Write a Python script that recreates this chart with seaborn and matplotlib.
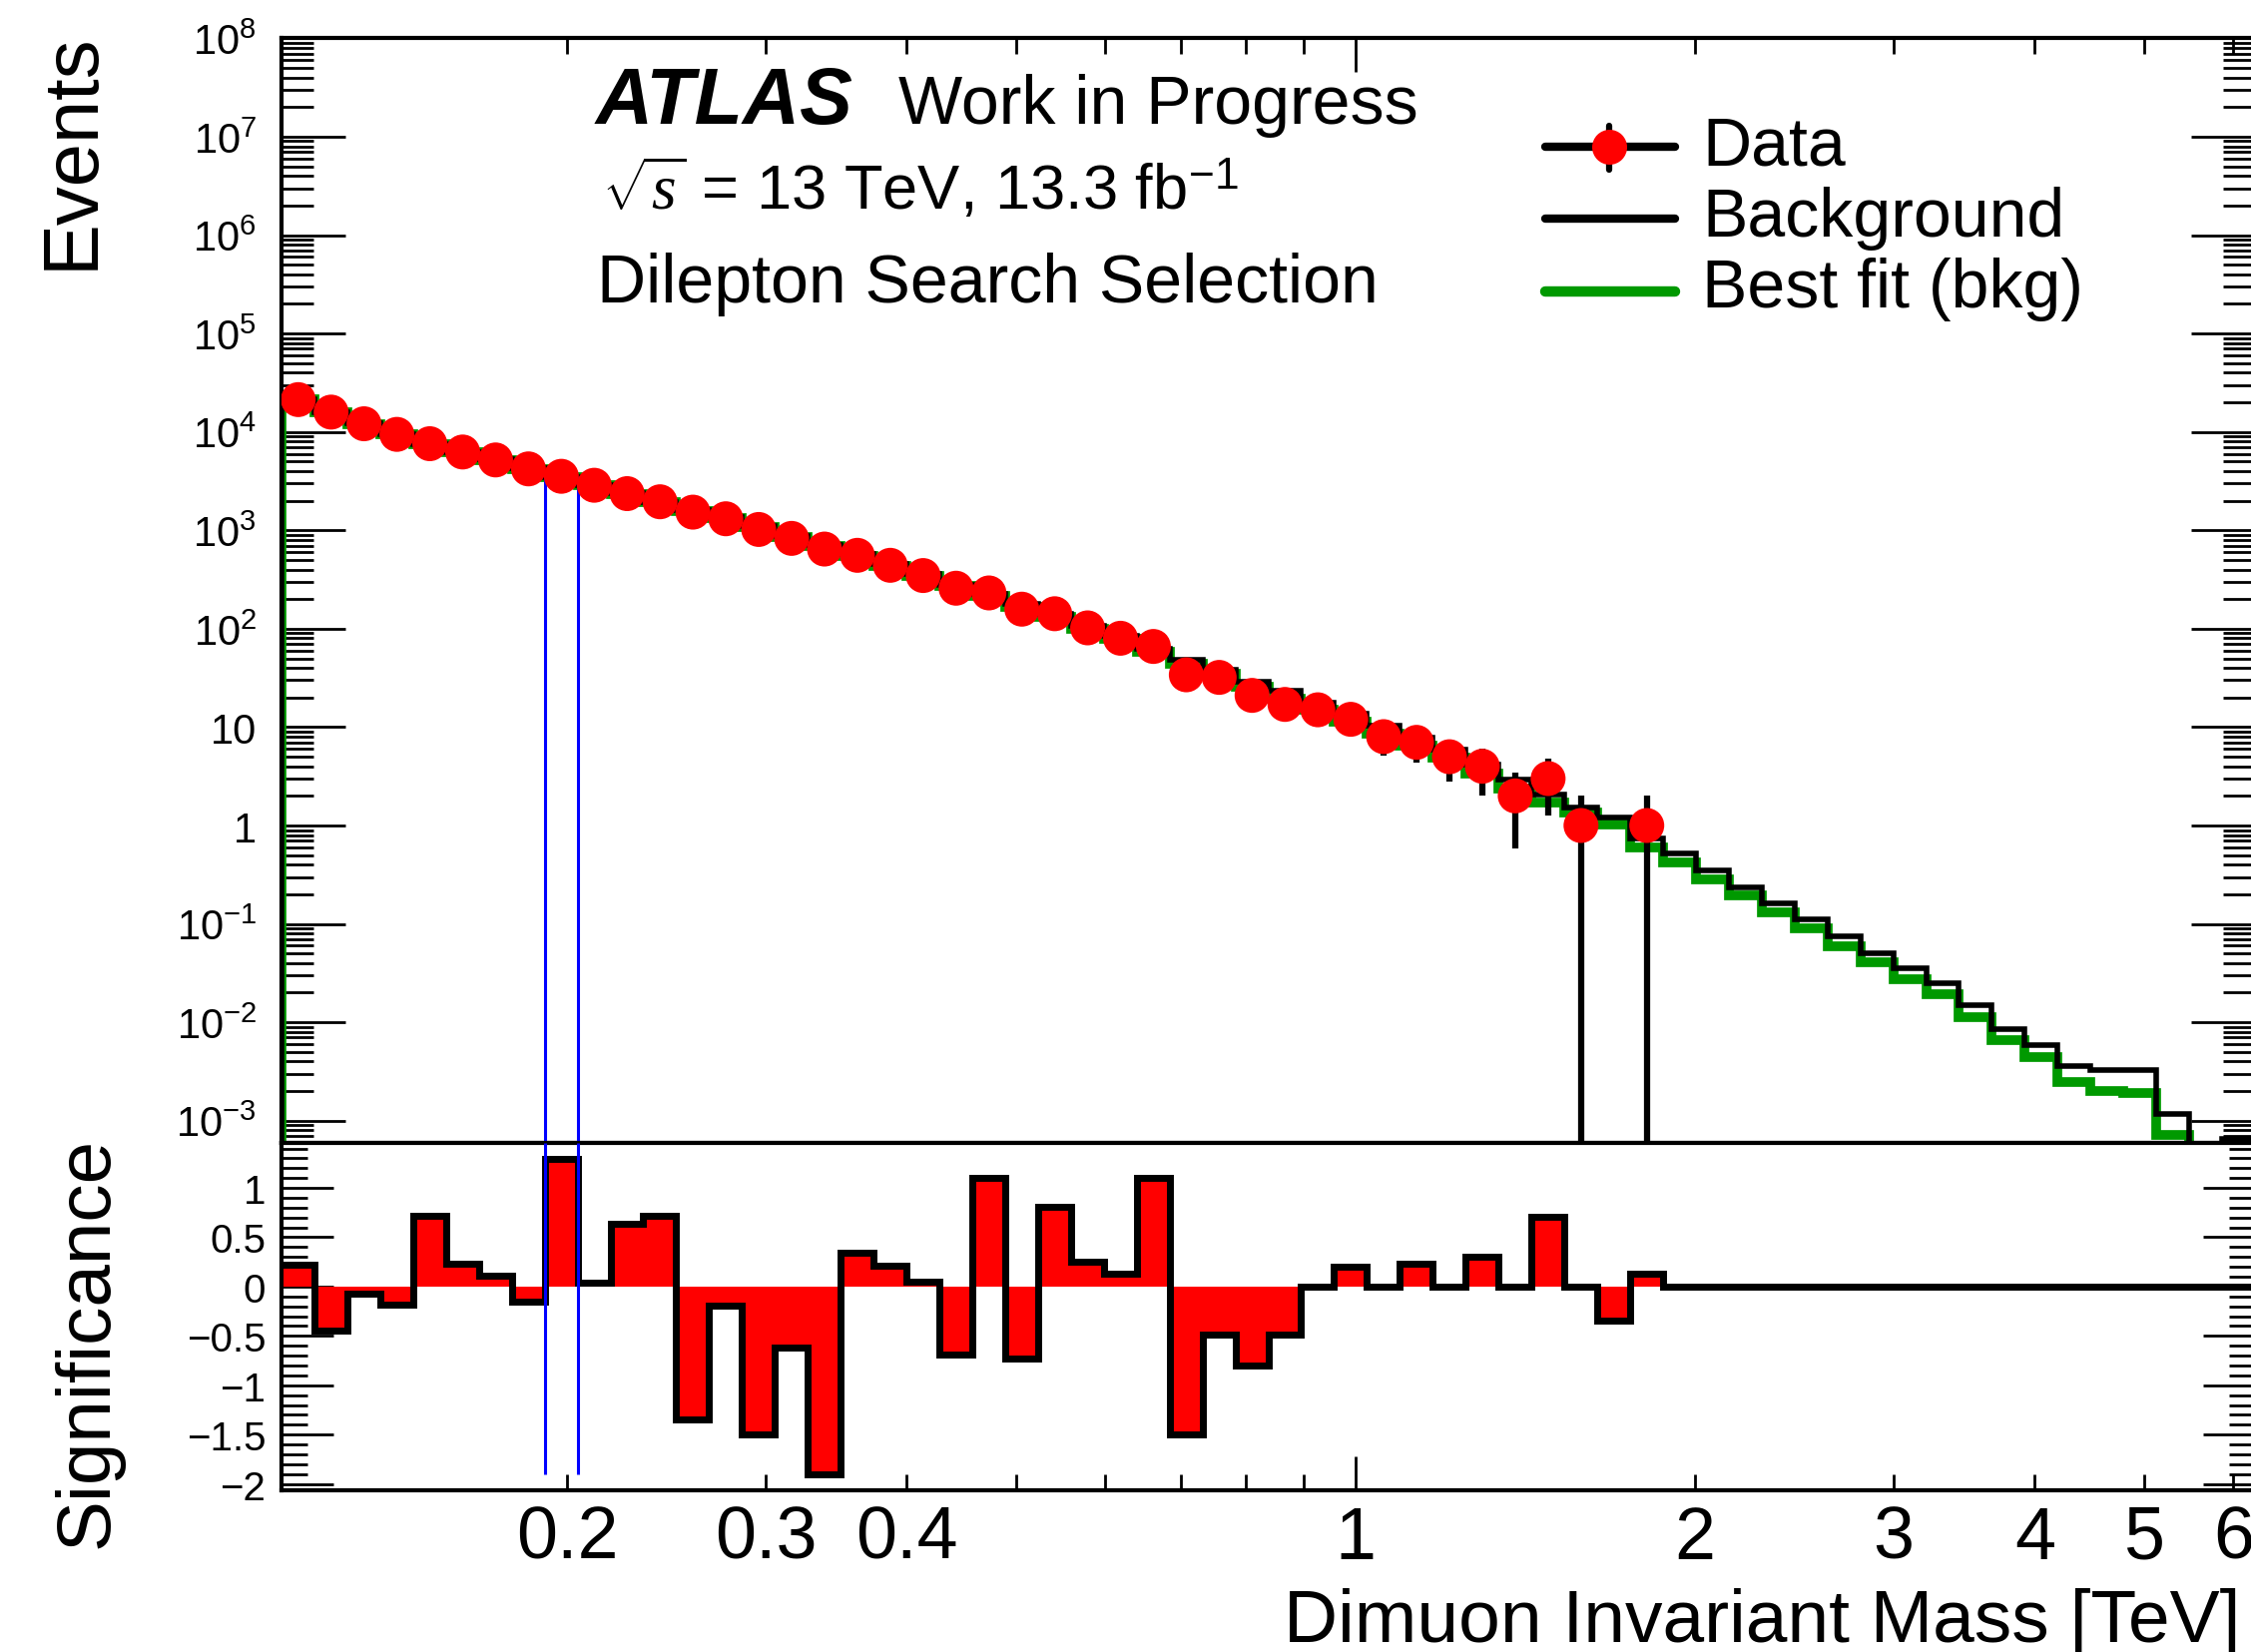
import numpy as np
import matplotlib
matplotlib.use("Agg")
import matplotlib.pyplot as plt
from matplotlib import ticker
from matplotlib.lines import Line2D
import seaborn as sns

sns.set_theme(style="ticks")
plt.rcParams.update({
    "font.family": ["Liberation Sans", "DejaVu Sans"],
    "mathtext.fontset": "custom",
    "mathtext.rm": "Liberation Sans",
    "mathtext.it": "Liberation Serif:italic",
    "mathtext.bf": "Liberation Sans:bold",
    "axes.unicode_minus": True,
    "text.color": "black",
    "axes.labelcolor": "black",
    "axes.edgecolor": "black",
    "xtick.color": "black",
    "ytick.color": "black",
})

# ---------------------------------------------------------------------------
# Dimuon invariant mass binning [TeV]: logarithmic bins
mass_min = 0.1117
mass_max = 6.27
n_bins = 60

# Observed events per bin
data_counts = np.array([
    21300, 15900, 12100, 9440, 7590, 6250, 5190, 4210, 3540, 2870,
    2360, 1950, 1530, 1310, 1020, 828, 645, 557, 441, 347,
    258, 231, 158, 142, 102, 80, 66, 34, 32, 21,
    17, 15, 12, 8, 7, 5, 4, 2, 3, 1,
    0, 1, 0, 0, 0, 0, 0, 0, 0, 0,
    0, 0, 0, 0, 0, 0, 0, 0, 0, 0], dtype=float)

# Background expectation per bin
background = np.array([
    21300, 15990, 12150, 9500, 7570, 6280, 5230, 4270, 3510, 2910,
    2370, 1955, 1620, 1350, 1100, 872, 717, 569, 454, 361,
    281, 226, 177, 141, 106.5, 85, 62.5, 48.4, 38.4, 28.8,
    23.2, 17.8, 13.6, 10.3, 7.8, 5.9, 4.2, 2.9, 2.05, 1.52,
    1.21, 0.743, 0.52, 0.347, 0.237, 0.162, 0.112, 0.0745, 0.0508, 0.0356,
    0.0249, 0.0149, 0.0086, 0.0059, 0.0036, 0.0033, 0.0033, 0.00118, 0.0, 0.00066])

# Background-only best fit per bin
best_fit = np.array([
    21268, 15957, 12108, 9457, 7527, 6232, 5182, 4220, 3463, 2868,
    2329, 1918, 1583, 1317, 1068, 846, 693, 549, 437, 346,
    269, 215, 167.5, 132.5, 99.5, 78.8, 57.6, 44.5, 34.9, 25.5,
    19.3, 15.0, 11.4, 8.6, 6.5, 4.9, 3.4, 2.4, 1.71, 1.37,
    1.02, 0.60, 0.425, 0.286, 0.194, 0.131, 0.0897, 0.0594, 0.0403, 0.0277,
    0.0193, 0.0112, 0.0066, 0.0044, 0.00245, 0.0020, 0.0019, 0.00071, 0.0, 0.0])

# Bin-by-bin significance of data with respect to the fit
significance = np.array([
    0.22, -0.45, -0.07, -0.18, 0.72, 0.23, 0.11, -0.15, 1.29, 0.04,
    0.64, 0.72, -1.35, -0.19, -1.50, -0.62, -1.90, 0.34, 0.21, 0.05,
    -0.69, 1.10, -0.73, 0.81, 0.25, 0.13, 1.10, -1.50, -0.49, -0.80,
    -0.49, 0.0, 0.20, 0.0, 0.23, 0.0, 0.30, 0.0, 0.71, 0.0,
    -0.35, 0.13, 0.0, 0.0, 0.0, 0.0, 0.0, 0.0, 0.0, 0.0,
    0.0, 0.0, 0.0, 0.0, 0.0, 0.0, 0.0, 0.0, 0.0, 0.0])

# Most significant window (bin index)
bump_bin = 8

# Axis ticks
x_major_ticks = [1.0]
x_minor_ticks = [0.2, 0.3, 0.4, 0.5, 0.6, 0.7, 0.8, 0.9, 2, 3, 4, 5, 6]
x_tick_labels = [0.2, 0.3, 0.4, 1, 2, 3, 4, 5, 6]
events_range = (6.0e-4, 1e8)
sig_range = (-2.065, 1.46)

edges = np.geomspace(mass_min, mass_max, n_bins + 1)
centers = 0.5 * (edges[:-1] + edges[1:])

# ---------------------------------------------------------------------------
W, H, DPI = 2255, 1656, 100
fig = plt.figure(figsize=(W / DPI, H / DPI), dpi=DPI)
fig.patch.set_facecolor("white")


def fx(px):
    return px / W


def fy(py):
    return 1.0 - py / H


left, right = 282, 2259
top, split, bottom = 39.4, 1145.6, 1494
ax_top = fig.add_axes([fx(left), fy(split), (right - left) / W, (split - top) / H])
ax_bot = fig.add_axes([fx(left), fy(bottom), (right - left) / W, (bottom - split) / H],
                      sharex=ax_top)

for ax in (ax_top, ax_bot):
    ax.set_facecolor("white")
    ax.grid(False)
    ax.set_xscale("log")
    for sp in ax.spines.values():
        sp.set_visible(True)
        sp.set_linewidth(3.0)
        sp.set_color("black")

# ---- upper panel: event counts ------------------------------------------
ax_top.set_yscale("log")
ax_top.stairs(best_fit, edges, baseline=0, color="#009900", lw=7, zorder=2)
ax_top.stairs(background, edges, baseline=0, color="black", lw=4, zorder=3)

has_data = data_counts > 0
err = np.sqrt(data_counts)
ax_top.vlines(centers[has_data], data_counts[has_data] - err[has_data],
              data_counts[has_data] + err[has_data], color="black", lw=4.5, zorder=4)
sns.scatterplot(x=centers[has_data], y=data_counts[has_data], ax=ax_top, color="red",
                s=635, edgecolor="none", linewidth=0, zorder=6, legend=False)

window = [edges[bump_bin], edges[bump_bin + 1]]
ax_top.vlines(window, events_range[0], data_counts[bump_bin], color="blue", lw=2.2, zorder=5)

ax_top.set_xlim(edges[0], edges[-1])
ax_top.set_ylim(*events_range)
ax_top.set_xlabel("")
ax_top.set_ylabel("")

# ---- lower panel: significance -------------------------------------------
ax_bot.stairs(significance, edges, baseline=0, fill=True, color="red", lw=0, zorder=1)
ax_bot.stairs(significance, edges, baseline=None, color="black", lw=5, zorder=2)
ax_bot.vlines(window, significance.min(), sig_range[1], color="blue", lw=2.2, zorder=5)
ax_bot.set_ylim(*sig_range)
ax_bot.set_xlim(edges[0], edges[-1])

# ---- ticks -----------------------------------------------------------------
def x_label(v, pos):
    for t in x_tick_labels:
        if abs(v - t) < 1e-6 * t:
            return "%g" % t
    return ""


ax_bot.xaxis.set_major_locator(ticker.FixedLocator(x_major_ticks))
ax_bot.xaxis.set_minor_locator(ticker.FixedLocator(x_minor_ticks))
ax_bot.xaxis.set_major_formatter(ticker.FuncFormatter(x_label))
ax_bot.xaxis.set_minor_formatter(ticker.FuncFormatter(x_label))


def events_label(v, pos):
    e = int(round(np.log10(v)))
    if e == 0:
        return "1"
    if e == 1:
        return "10"
    return r"$\mathregular{10^{%d}}$" % e


ax_top.yaxis.set_major_locator(ticker.LogLocator(base=10, numticks=40))
ax_top.yaxis.set_minor_locator(ticker.LogLocator(base=10, subs=np.arange(2, 10) * 1.0, numticks=40))
ax_top.yaxis.set_major_formatter(ticker.FuncFormatter(events_label))
ax_top.yaxis.set_minor_formatter(ticker.NullFormatter())


def sig_label(v, pos):
    s = "%g" % round(v, 2)
    if s == "-0":
        s = "0"
    return s.replace("-", "\u2212")


ax_bot.yaxis.set_major_locator(ticker.MultipleLocator(0.5))
ax_bot.yaxis.set_minor_locator(ticker.MultipleLocator(0.1))
ax_bot.yaxis.set_major_formatter(ticker.FuncFormatter(sig_label))

ax_top.tick_params(axis="x", which="both", direction="in", bottom=False, top=True,
                   labelbottom=False, labeltop=False, width=2, color="black")
ax_top.tick_params(axis="x", which="major", length=24.5)
ax_top.tick_params(axis="x", which="minor", length=11.5)
ax_top.tick_params(axis="y", which="both", direction="in", left=True, right=True,
                   width=2, color="black", labelcolor="black")
ax_top.tick_params(axis="y", which="major", length=46, labelsize=30, pad=18)
ax_top.tick_params(axis="y", which="minor", length=23)

ax_bot.tick_params(axis="x", which="both", direction="in", bottom=True, top=False,
                   labelbottom=True, width=2, labelsize=53, pad=10, color="black",
                   labelcolor="black")
ax_bot.tick_params(axis="x", which="major", length=24.5)
ax_bot.tick_params(axis="x", which="minor", length=11.5)
ax_bot.tick_params(axis="y", which="both", direction="in", left=True, right=True,
                   width=2, color="black", labelcolor="black")
ax_bot.tick_params(axis="y", which="major", length=37.4, labelsize=29, pad=11.5)
ax_bot.tick_params(axis="y", which="minor", length=18.7)
ax_bot.set_xlabel("")
ax_bot.set_ylabel("")

# ---- axis titles -----------------------------------------------------------
fig.text(fx(93), fy(32), "Events", rotation=90, rotation_mode="anchor",
         ha="right", va="baseline", fontsize=56)
fig.text(fx(108), fy(1139), "Significance", rotation=90, rotation_mode="anchor",
         ha="right", va="baseline", fontsize=55)
fig.text(fx(2245), fy(1645), "Dimuon Invariant Mass [TeV]", ha="right",
         va="baseline", fontsize=54)

# ---- labels ----------------------------------------------------------------
fig.text(fx(597), fy(124), "ATLAS", fontsize=57, fontweight="bold",
         fontstyle="italic", va="baseline", ha="left")
fig.text(fx(900), fy(124), "Work in Progress", fontsize=49, va="baseline", ha="left")
fig.text(fx(603), fy(210), r"$\sqrt{s}$ = 13 TeV, 13.3 fb$^{\mathregular{-1}}$",
         fontsize=45.5, va="baseline", ha="left")
fig.text(fx(598), fy(303), "Dilepton Search Selection", fontsize=49,
         va="baseline", ha="left")

# ---- legend ----------------------------------------------------------------
lx0, lx1, lxm = 1548, 1678, 1612
fig.add_artist(Line2D([fx(lx0), fx(lx1)], [fy(148), fy(148)], transform=fig.transFigure,
                      color="black", lw=6))
fig.add_artist(Line2D([fx(lxm), fx(lxm)], [fy(126.7), fy(170.7)], transform=fig.transFigure,
                      color="black", lw=4.5))
fig.add_artist(Line2D([fx(lxm)], [fy(148)], transform=fig.transFigure, ls="none",
                      marker="o", ms=25.2, mfc="red", mec="none"))
fig.add_artist(Line2D([fx(lx0), fx(lx1)], [fy(220), fy(220)], transform=fig.transFigure,
                      color="black", lw=6))
fig.add_artist(Line2D([fx(lx0), fx(lx1)], [fy(293), fy(293)], transform=fig.transFigure,
                      color="#009900", lw=7.5))
fig.text(fx(1705), fy(165), "Data", fontsize=49, va="baseline", ha="left")
fig.text(fx(1705), fy(237), "Background", fontsize=49, va="baseline", ha="left")
fig.text(fx(1705), fy(308), "Best fit (bkg)", fontsize=49, va="baseline", ha="left")

fig.savefig("out.png", dpi=DPI, facecolor="white")
